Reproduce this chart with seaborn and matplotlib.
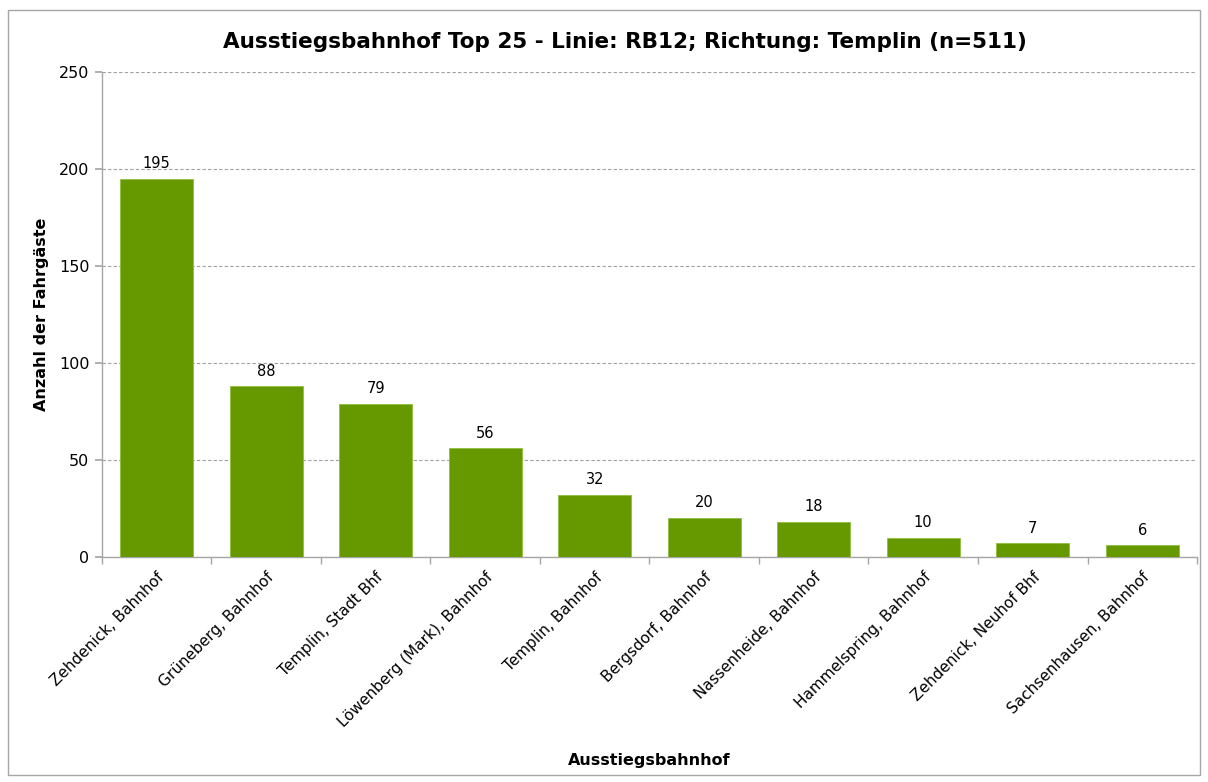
import matplotlib
matplotlib.use("Agg")
import matplotlib.pyplot as plt
import seaborn as sns
import pandas as pd
import numpy as np
from matplotlib.patches import Rectangle
from matplotlib.ticker import FixedLocator

stations = [
    "Zehdenick, Bahnhof",
    "Grüneberg, Bahnhof",
    "Templin, Stadt Bhf",
    "Löwenberg (Mark), Bahnhof",
    "Templin, Bahnhof",
    "Bergsdorf, Bahnhof",
    "Nassenheide, Bahnhof",
    "Hammelspring, Bahnhof",
    "Zehdenick, Neuhof Bhf",
    "Sachsenhausen, Bahnhof",
]
passengers = [195, 88, 79, 56, 32, 20, 18, 10, 7, 6]
y_ticks = [0, 50, 100, 150, 200, 250]

sns.set_theme(style="white")
plt.rcParams["font.family"] = ["DejaVu Sans"]
plt.rcParams["text.color"] = "black"
plt.rcParams["axes.labelcolor"] = "black"
plt.rcParams["xtick.color"] = "black"
plt.rcParams["ytick.color"] = "black"

df = pd.DataFrame({"station": stations, "count": passengers})

fig = plt.figure(figsize=(12.08, 7.82), dpi=100)
ax = fig.add_axes([0.0844, 0.2877, 0.9065, 0.6202])

sns.barplot(data=df, x="station", y="count", color="#669900",
            saturation=1, width=0.67, ax=ax, zorder=3,
            edgecolor="#8fbf3f", linewidth=0.6)

ax.set_ylim(0, 250)
ax.set_xlim(-0.5, len(stations) - 0.5)
ax.set_yticks(y_ticks)
ax.yaxis.grid(True, linestyle=(0, (3, 2)), color="#a0a0a0", linewidth=0.8, zorder=0)
ax.xaxis.grid(False)

for s in ["top", "right"]:
    ax.spines[s].set_visible(False)
for s in ["left", "bottom"]:
    ax.spines[s].set_color("#a6a6a6")
    ax.spines[s].set_linewidth(1.0)

# category boundary ticks on the x axis
ax.xaxis.set_minor_locator(FixedLocator(np.arange(-0.5, len(stations), 1.0)))
ax.tick_params(axis="x", which="minor", length=5, color="#a6a6a6", direction="out", bottom=True)
ax.tick_params(axis="x", which="major", length=0, pad=9, labelsize=11, labelcolor="black")
ax.tick_params(axis="y", length=5, color="#a6a6a6", direction="out", left=True,
               labelsize=11.5, pad=4, labelcolor="black")
plt.setp(ax.get_xticklabels(), rotation=45, ha="right", rotation_mode="anchor")

for i, v in enumerate(passengers):
    ax.text(i, v + 4, str(v), ha="center", va="bottom", fontsize=10.5, color="black")

ax.set_xlabel("Ausstiegsbahnhof", fontsize=11.5, fontweight="bold", labelpad=0)
ax.xaxis.set_label_coords(0.5, -0.405)
ax.set_ylabel("Anzahl der Fahrgäste", fontsize=11.5, fontweight="bold")
ax.yaxis.set_label_coords(-0.048, 0.5)

fig.text(0.517, 0.946, "Ausstiegsbahnhof Top 25 - Linie: RB12; Richtung: Templin (n=511)",
         ha="center", va="center", fontsize=15.5, fontweight="bold", color="black")

fig.patches.append(Rectangle((8 / 1208, 1 - 775 / 782), 1192 / 1208, 765 / 782,
                             transform=fig.transFigure, fill=False,
                             edgecolor="#a6a6a6", linewidth=1.0))

fig.savefig("out.png", dpi=100)
